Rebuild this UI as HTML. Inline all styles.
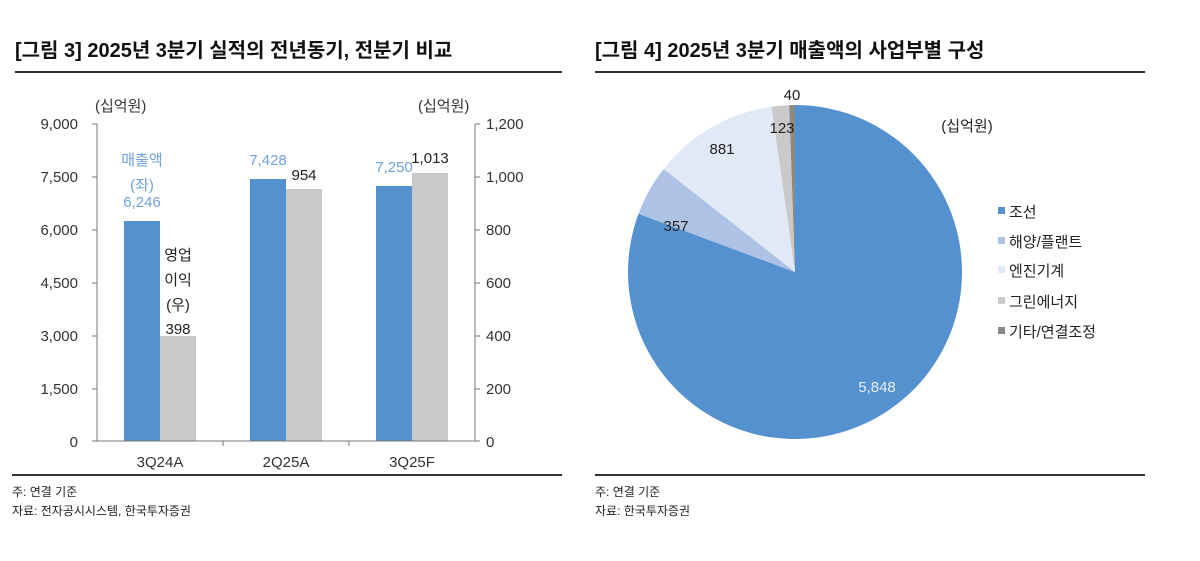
<!DOCTYPE html>
<html><head><meta charset="utf-8"><style>
body{margin:0;width:1200px;height:556px;background:#fff;overflow:hidden}
svg text{font-family:"Liberation Sans","Noto Sans CJK KR",sans-serif}
</style></head><body>
<svg width="1200" height="556" xmlns="http://www.w3.org/2000/svg">
<text x="15" y="57" font-size="20" font-weight="bold" fill="#111">[그림 3] 2025년 3분기 실적의 전년동기, 전분기 비교</text>
<text x="595" y="57" font-size="20" font-weight="bold" fill="#111">[그림 4] 2025년 3분기 매출액의 사업부별 구성</text>
<rect x="15" y="71" width="547" height="2" fill="#333"/>
<rect x="595" y="71" width="550" height="2" fill="#333"/>
<rect x="12" y="474" width="550" height="2" fill="#333"/>
<rect x="595" y="474" width="550" height="2" fill="#333"/>
<g font-size="15" fill="#333">
<text x="95" y="111">(십억원)</text>
<text x="418" y="111">(십억원)</text>
<g text-anchor="end">
<text x="78" y="129">9,000</text><text x="78" y="182">7,500</text><text x="78" y="235">6,000</text><text x="78" y="288">4,500</text><text x="78" y="341">3,000</text><text x="78" y="394">1,500</text><text x="78" y="447">0</text>
</g>
<text x="486" y="129">1,200</text><text x="486" y="182">1,000</text><text x="486" y="235">800</text><text x="486" y="288">600</text><text x="486" y="341">400</text><text x="486" y="394">200</text><text x="486" y="447">0</text>
<g text-anchor="middle"><text x="160" y="467">3Q24A</text><text x="286" y="467">2Q25A</text><text x="412" y="467">3Q25F</text></g>
</g>
<g fill="#5591cf">
<rect x="124" y="221" width="36" height="220"/>
<rect x="250" y="179" width="36" height="262"/>
<rect x="376" y="186" width="36" height="255"/>
</g>
<g fill="#c9c9c9">
<rect x="160" y="336" width="36" height="105"/>
<rect x="286" y="189" width="36" height="252"/>
<rect x="412" y="173" width="36" height="268"/>
</g>
<g stroke="#777" stroke-width="1" fill="none">
<path d="M97 124V441H475V124"/>
<path d="M92 124H97M92 177H97M92 230H97M92 283H97M92 336H97M92 389H97M92 441H97"/>
<path d="M475 124H480M475 177H480M475 230H480M475 283H480M475 336H480M475 389H480M475 441H480"/>
<path d="M223 441V446M349 441V446"/>
</g>
<g font-size="15" fill="#6fa2dc" text-anchor="middle">
<text x="142" y="165">매출액</text><text x="142" y="190">(좌)</text><text x="142" y="207">6,246</text>
<text x="268" y="165">7,428</text><text x="394" y="172">7,250</text>
</g>
<g font-size="15" fill="#222" text-anchor="middle">
<text x="178" y="260">영업</text><text x="178" y="285">이익</text><text x="178" y="310">(우)</text><text x="178" y="334">398</text>
<text x="304" y="180">954</text><text x="430" y="163">1,013</text>
</g>
<g font-size="12" fill="#222">
<text x="12" y="496">주: 연결 기준</text><text x="12" y="515">자료: 전자공시시스템, 한국투자증권</text>
<text x="595" y="496">주: 연결 기준</text><text x="595" y="515">자료: 한국투자증권</text>
</g>
<path d="M795 272L795 105A167 167 0 1 1 638.5 213.8Z" fill="#5591cf"/>
<path d="M795 272L638.5 213.8A167 167 0 0 1 663.6 169Z" fill="#adc2e4"/>
<path d="M795 272L663.6 169A167 167 0 0 1 771.5 106.7Z" fill="#e1e8f6"/>
<path d="M795 272L771.5 106.7A167 167 0 0 1 789.2 105.1Z" fill="#c9c9c9"/>
<path d="M795 272L789.2 105.1A167 167 0 0 1 795 105Z" fill="#8a8a8a"/>
<g font-size="15" fill="#222" text-anchor="middle">
<text x="792" y="100">40</text><text x="782" y="133">123</text><text x="722" y="154">881</text><text x="676" y="231">357</text>
<text x="877" y="392" fill="#e8eef8">5,848</text>
<text x="967" y="131">(십억원)</text>
</g>
<g font-size="15" fill="#222">
<rect x="998" y="207" width="7" height="7" fill="#5591cf"/><text x="1009" y="217">조선</text>
<rect x="998" y="237" width="7" height="7" fill="#adc2e4"/><text x="1009" y="247">해양/플랜트</text>
<rect x="998" y="266" width="7" height="7" fill="#e1e8f6"/><text x="1009" y="276">엔진기계</text>
<rect x="998" y="297" width="7" height="7" fill="#c9c9c9"/><text x="1009" y="307">그린에너지</text>
<rect x="998" y="327" width="7" height="7" fill="#8a8a8a"/><text x="1009" y="337">기타/연결조정</text>
</g>
</svg>
</body></html>
